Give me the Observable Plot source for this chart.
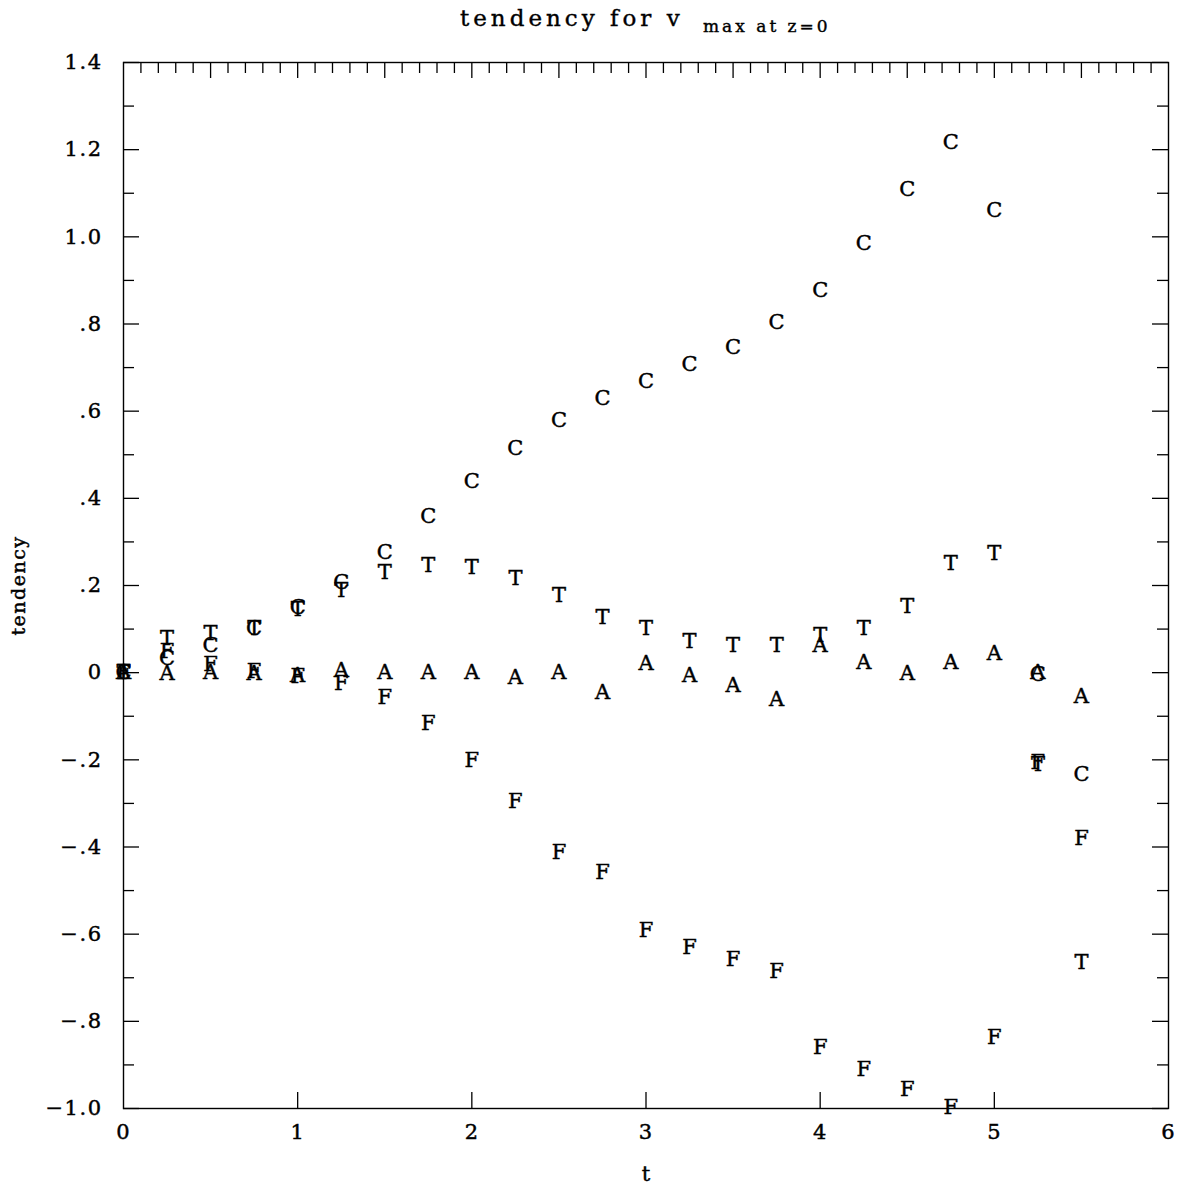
<!DOCTYPE html>
<html><head><meta charset="utf-8">
<script src="https://cdn.jsdelivr.net/npm/d3@7"></script>
<script src="https://cdn.jsdelivr.net/npm/@observablehq/plot@0.6"></script>
<style>
body{margin:0;background:#fff;}
#title{position:relative;height:40px;font-family:"DejaVu Serif";color:#000;-webkit-text-stroke:0.4px #000;}
#title .main{position:absolute;left:460px;top:5px;font-size:23px;letter-spacing:4px;white-space:nowrap;}
#title .sub{position:absolute;left:703px;top:16px;font-size:17px;letter-spacing:3px;white-space:nowrap;}
#chart svg text{stroke:#000;stroke-width:0.45px;}
.ylab text{letter-spacing:1.5px}
.xlab text{letter-spacing:1px}
</style></head><body>
<div id="title"><span class="main">tendency for v</span><span class="sub">max at z=0</span></div>
<div id="chart"></div>
<script>
// time values
const t = [0,0.25,0.5,0.75,1,1.25,1.5,1.75,2,2.25,2.5,2.75,3,3.25,3.5,3.75,4,4.25,4.5,4.75,5,5.25,5.5];
// series values (tendency)
const C = [0,0.034,0.062,0.103,0.150,0.207,0.276,0.358,0.439,0.514,0.579,0.629,0.668,0.707,0.746,0.804,0.877,0.985,1.109,1.217,1.061,-0.003,-0.232];
const T = [0,0.080,0.090,0.103,0.145,0.188,0.230,0.246,0.241,0.216,0.177,0.126,0.101,0.073,0.062,0.062,0.085,0.103,0.152,0.250,0.273,-0.210,-0.664];
const A = [0,-0.002,0,-0.002,-0.005,0.005,0,0,0.002,-0.011,0.002,-0.046,0.021,-0.007,-0.030,-0.060,0.062,0.023,-0.002,0.023,0.044,0,-0.053];
const F = [0,0.050,0.020,0.003,-0.008,-0.025,-0.057,-0.115,-0.202,-0.296,-0.411,-0.459,-0.592,-0.629,-0.657,-0.684,-0.859,-0.909,-0.957,-0.997,-0.836,-0.205,-0.381];
const seriesNames = ["A","F","C","T"];
const seriesValues = {A, F, C, T};

// tick values and labels
const xTicks = [0,1,2,3,4,5,6];
const xTickLabels = ["0","1","2","3","4","5","6"];
const yTicks = [-1.0,-0.8,-0.6,-0.4,-0.2,0,0.2,0.4,0.6,0.8,1.0,1.2,1.4];
const yTickLabels = ["\u22121.0","\u2212.8","\u2212.6","\u2212.4","\u2212.2","0",".2",".4",".6",".8","1.0","1.2","1.4"];

const yMinor = d3.range(-9, 14, 2).map(i => i / 10);
const topTicks = d3.range(1, 60).map(i => i / 10);
const topMajor = topTicks.filter(v => Math.abs(v * 2 - Math.round(v * 2)) < 1e-9);
const topMinor = topTicks.filter(v => !topMajor.includes(v));
const bottomTicks = [1,2,3,4,5];

const data = [];
for (const s of seriesNames) {
  seriesValues[s].forEach((v, i) => data.push({t: t[i], v, s}));
}

const W = 1178, H = 1145;
const mL = 123, mR = 10, mT = 22, mB = 77;
const pw = W - mL - mR, ph = H - mT - mB;
const font = "DejaVu Serif";

const chart = Plot.plot({
  width: W, height: H,
  marginLeft: mL, marginRight: mR, marginTop: mT, marginBottom: mB,
  x: {domain: [0, 6]},
  y: {domain: [-1.0, 1.4]},
  style: {fontFamily: font, color: "#000", background: "#fff"},
  marks: [
    Plot.frame({stroke: "#000", strokeWidth: 1.4}),
    // left ticks
    Plot.ruleY(yTicks, {insetRight: pw - 16, stroke: "#000", strokeWidth: 1.3}),
    Plot.ruleY(yMinor, {insetRight: pw - 11, stroke: "#000", strokeWidth: 1.3}),
    // right ticks
    Plot.ruleY(yTicks, {insetLeft: pw - 16, stroke: "#000", strokeWidth: 1.3}),
    Plot.ruleY(yMinor, {insetLeft: pw - 11, stroke: "#000", strokeWidth: 1.3}),
    // top ticks
    Plot.ruleX(topMajor, {insetBottom: ph - 16, stroke: "#000", strokeWidth: 1.3}),
    Plot.ruleX(topMinor, {insetBottom: ph - 11, stroke: "#000", strokeWidth: 1.3}),
    // bottom ticks
    Plot.ruleX(bottomTicks, {insetTop: ph - 16, stroke: "#000", strokeWidth: 1.3}),
    Plot.axisY({ticks: yTicks, tickFormat: d => yTickLabels[yTicks.findIndex(v => Math.abs(v - d) < 1e-9)],
      tickSize: 0, tickPadding: 21, fontSize: 21, fontFamily: font, label: null, className: "ylab"}),
    Plot.axisX({ticks: xTicks, tickFormat: d => xTickLabels[xTicks.indexOf(d)],
      tickSize: 0, tickPadding: 16, fontSize: 21, fontFamily: font, label: null, className: "xlab"}),
    Plot.text(["t"], {frameAnchor: "bottom", lineAnchor: "middle", dy: 66, fontSize: 21, fontFamily: font}),
    Plot.text(["tendency"], {frameAnchor: "left", textAnchor: "middle", lineAnchor: "middle", dx: -105, rotate: -90, fontSize: 19, fontFamily: font, className: "ylab"}),
    Plot.text(data, {x: "t", y: "v", text: "s", fontSize: 21, fontFamily: font, fill: "#000"})
  ]
});
document.getElementById("chart").appendChild(chart);
</script>
</body></html>
